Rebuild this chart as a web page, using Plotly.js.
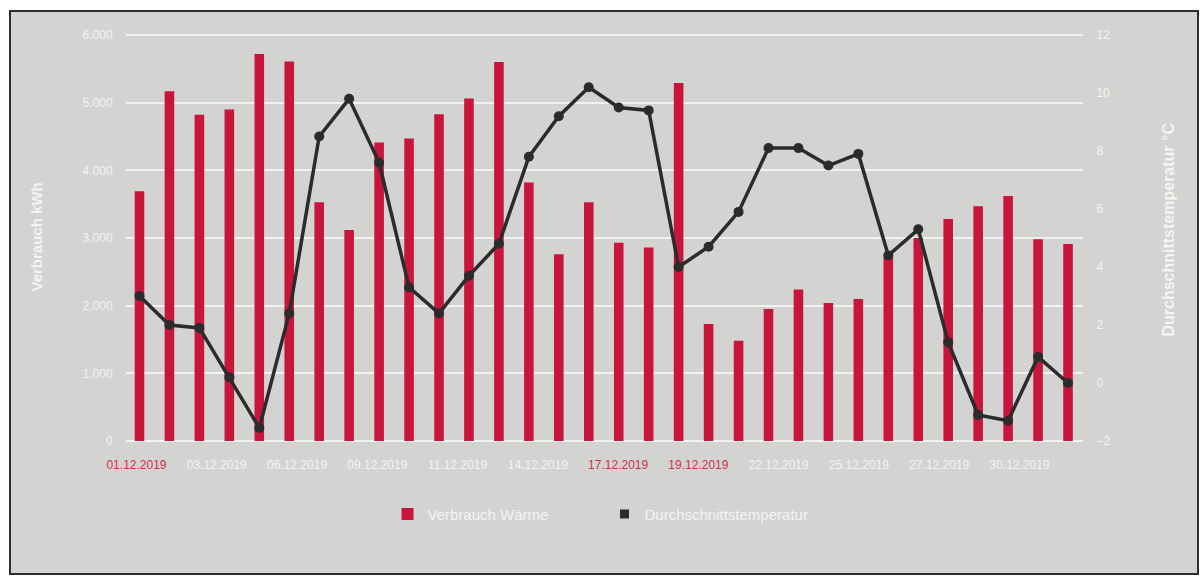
<!DOCTYPE html>
<html>
<head>
<meta charset="utf-8">
<script src="https://cdn.plot.ly/plotly-3.0.1.min.js"></script>
<style>
  html, body { margin: 0; padding: 0; background: #ffffff; width: 1200px; height: 576px; overflow: hidden; }
  #frame { position: absolute; left: 9px; top: 10px; width: 1186px; height: 561px; border: 2px solid #2e2e2e; background: #d3d3d1; }
  #chart { width: 1186px; height: 561px; }
</style>
</head>
<body>
<div id="frame"><div id="chart"></div></div>
<script>
const days = ["01.12.2019","02.12.2019","03.12.2019","04.12.2019","05.12.2019","06.12.2019","07.12.2019","08.12.2019",
  "09.12.2019","10.12.2019","11.12.2019","12.12.2019","13.12.2019","14.12.2019","15.12.2019","16.12.2019",
  "17.12.2019","18.12.2019","19.12.2019","20.12.2019","21.12.2019","22.12.2019","23.12.2019","24.12.2019",
  "25.12.2019","26.12.2019","27.12.2019","28.12.2019","29.12.2019","30.12.2019","31.12.2019","01.01.2020"];

const verbrauch = [3690, 5170, 4820, 4900, 5720, 5610, 3530, 3120,
  4410, 4470, 4830, 5060, 5600, 3820, 2760, 3530,
  2930, 2860, 5290, 1730, 1480, 1950, 2240, 2040,
  2100, 2720, 3000, 3280, 3470, 3620, 2980, 2910];

const temperatur = [3.0, 2.0, 1.9, 0.2, -1.55, 2.4, 8.5, 9.8,
  7.6, 3.3, 2.4, 3.7, 4.8, 7.8, 9.2, 10.2,
  9.5, 9.4, 4.0, 4.7, 5.9, 8.1, 8.1, 7.5,
  7.9, 4.4, 5.3, 1.4, -1.1, -1.3, 0.9, 0.0];

// axis labels as printed (evenly spread along the date axis)
const labelDays = ["01.12.2019","03.12.2019","06.12.2019","09.12.2019","11.12.2019","14.12.2019",
  "17.12.2019","19.12.2019","22.12.2019","25.12.2019","27.12.2019","30.12.2019"];
const labelPos = [-0.1, 2.58, 5.26, 7.94, 10.62, 13.3, 15.98, 18.66, 21.34, 24.02, 26.7, 29.38];
const redLabels = ["01.12.2019","17.12.2019","19.12.2019"];

const seriesNames = ["Verbrauch Wärme", "Durchschnittstemperatur"];

const RED = "#c8153c";
const DARK = "#2b2b2b";
const TXT = "#f4f4f2";

const xIdx = days.map((d, i) => i);
const tickText = labelDays.map(d => redLabels.includes(d)
  ? '<span style="color:#d0304e">' + d + '</span>' : d);

const traces = [
  {
    type: "bar", x: xIdx, y: verbrauch, name: seriesNames[0], hovertext: days,
    marker: { color: RED }, width: 0.32, yaxis: "y"
  },
  {
    type: "scatter", mode: "lines+markers", x: xIdx, y: temperatur, name: seriesNames[1],
    hovertext: days, yaxis: "y2", showlegend: false,
    line: { color: DARK, width: 3.5 },
    marker: { color: DARK, size: 10, symbol: "circle" }
  },
  {
    type: "scatter", mode: "markers", x: [null], y: [null], name: seriesNames[1],
    yaxis: "y2", marker: { color: DARK, size: 9, symbol: "square" }
  }
];

const layout = {
  width: 1186, height: 561,
  paper_bgcolor: "#d3d3d1", plot_bgcolor: "#d3d3d1",
  separators: ",.",
  font: { family: "Liberation Sans, Arial, sans-serif", color: TXT, size: 12 },
  margin: { l: 115, r: 114, t: 22, b: 132 },
  showlegend: true,
  legend: {
    orientation: "h", x: 0.5, xanchor: "center", y: -0.18, yanchor: "middle",
    font: { size: 15, color: TXT }, bgcolor: "rgba(0,0,0,0)", itemwidth: 30,
    entrywidth: 172, traceorder: "normal"
  },
  xaxis: {
    type: "linear", range: [-0.45, 31.5],
    tickmode: "array", tickvals: labelPos, ticktext: tickText,
    tickangle: 0, ticks: "outside", ticklen: 13, tickcolor: "rgba(0,0,0,0)",
    tickfont: { size: 12, color: TXT },
    showgrid: false, zeroline: false, showline: false
  },
  yaxis: {
    range: [0, 6015], tickmode: "array", tickvals: [0, 1000, 2000, 3000, 4000, 5000, 6000],
    tickformat: ",d",
    gridcolor: "#f2f2f0", gridwidth: 2, zeroline: true, zerolinecolor: "#f2f2f0", zerolinewidth: 2,
    showline: false,
    ticks: "outside", ticklen: 10, tickcolor: "rgba(0,0,0,0)",
    tickfont: { size: 12, color: TXT }
  },
  yaxis2: {
    overlaying: "y", side: "right", range: [-2, 12.035], tickmode: "array",
    tickvals: [-2, 0, 2, 4, 6, 8, 10, 12],
    showgrid: false, zeroline: false, showline: false,
    ticks: "outside", ticklen: 10, tickcolor: "rgba(0,0,0,0)",
    tickfont: { size: 12, color: TXT }
  },
  annotations: [
    { text: "<b>Verbrauch kWh</b>", xref: "paper", yref: "paper", x: -0.105, y: 0.5,
      textangle: -90, showarrow: false, font: { size: 15, color: TXT } },
    { text: "<b>Durchschnittstemperatur °C</b>", xref: "paper", yref: "paper", x: 1.1, y: 0.52,
      textangle: -90, showarrow: false, font: { size: 16, color: TXT } }
  ]
};

Plotly.newPlot("chart", traces, layout, { displayModeBar: false, staticPlot: true });
</script>
</body>
</html>
